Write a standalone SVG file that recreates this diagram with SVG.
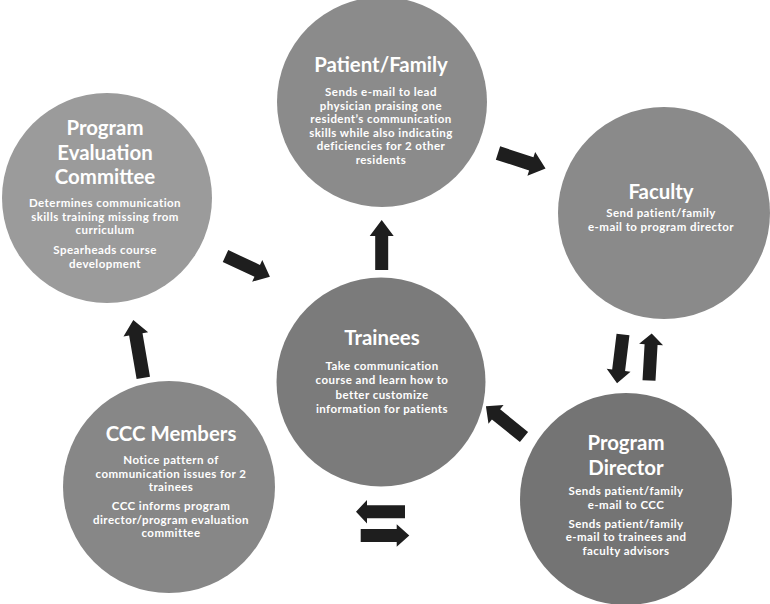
<svg xmlns="http://www.w3.org/2000/svg" width="770" height="604" viewBox="0 0 770 604">
<defs>
<style>
.bg{fill:#ffffff}
.t{font-family:Lato,"Open Sans","Liberation Sans",sans-serif;font-weight:700;fill:#ffffff;text-anchor:middle}
.h{font-size:20.4px}
.b{font-size:11.5px;letter-spacing:0.45px}
.arr{fill:#1e1e1e}
</style>
</defs>
<rect class="bg" x="0" y="0" width="770" height="604"/>
<g id="connectors">
<path class="arr" transform="translate(498,153) rotate(18)" d="M0,-7 L35,-7 L35,-12.5 L50,0 L35,12.5 L35,7 L0,7 Z"/>
<path class="arr" transform="translate(225.5,256) rotate(25)" d="M0,-6.5 L35,-6.5 L35,-12 L49,0 L35,12 L35,6.5 L0,6.5 Z"/>
<path class="arr" transform="translate(381.7,270) rotate(-90)" d="M0,-6.5 L34,-6.5 L34,-12 L50,0 L34,12 L34,6.5 L0,6.5 Z"/>
<path class="arr" transform="translate(623,334.5) rotate(97)" d="M0,-6.5 L36,-6.5 L36,-12 L49,0 L36,12 L36,6.5 L0,6.5 Z"/>
<path class="arr" transform="translate(649,380.5) rotate(-86.7)" d="M0,-6.5 L36,-6.5 L36,-12 L47,0 L36,12 L36,6.5 L0,6.5 Z"/>
<path class="arr" transform="translate(524,437) rotate(219)" d="M0,-6.5 L36,-6.5 L36,-12 L49,0 L36,12 L36,6.5 L0,6.5 Z"/>
<path class="arr" transform="translate(405,511.7) rotate(180)" d="M0,-6.5 L38,-6.5 L38,-11.7 L49,0 L38,11.7 L38,6.5 L0,6.5 Z"/>
<path class="arr" transform="translate(360.7,535.5) rotate(0)" d="M0,-6.5 L36,-6.5 L36,-11.2 L48.6,0 L36,11.2 L36,6.5 L0,6.5 Z"/>
<path class="arr" transform="translate(143.3,377.8) rotate(-99.8)" d="M0,-6.8 L44,-6.8 L44,-12.5 L58.7,0 L44,12.5 L44,6.8 L0,6.8 Z"/>
</g>
<g id="patient-family">
<circle cx="382" cy="102" r="105" fill="#8b8b8b"/>
<text class="t h" x="381" y="72">Patient/Family</text>
<text class="t b" x="381" y="96">Sends e-mail to lead</text>
<text class="t b" x="381" y="109.5">physician praising one</text>
<text class="t b" x="381" y="123">resident’s communication</text>
<text class="t b" x="381" y="136.5">skills while also indicating</text>
<text class="t b" x="381" y="150">deficiencies for 2 other</text>
<text class="t b" x="381" y="163.5">residents</text>
</g>
<g id="program-evaluation-committee">
<circle cx="107" cy="198" r="105" fill="#9b9b9b"/>
<text class="t h" x="105" y="135">Program</text>
<text class="t h" x="105" y="159.5">Evaluation</text>
<text class="t h" x="105" y="184">Committee</text>
<text class="t b" x="105" y="207">Determines communication</text>
<text class="t b" x="105" y="220.5">skills training missing from</text>
<text class="t b" x="105" y="234">curriculum</text>
<text class="t b" x="105" y="254">Spearheads course</text>
<text class="t b" x="105" y="267.5">development</text>
</g>
<g id="faculty">
<circle cx="664" cy="213" r="106" fill="#8a8a8a"/>
<text class="t h" x="661" y="199">Faculty</text>
<text class="t b" x="661" y="217">Send patient/family</text>
<text class="t b" x="661" y="231">e-mail to program director</text>
</g>
<g id="trainees">
<circle cx="381" cy="382" r="104.5" fill="#7b7b7b"/>
<text class="t h" x="382" y="345">Trainees</text>
<text class="t b" x="382" y="369.5">Take communication</text>
<text class="t b" x="382" y="384">course and learn how to</text>
<text class="t b" x="382" y="398.5">better customize</text>
<text class="t b" x="382" y="413">information for patients</text>
</g>
<g id="ccc-members">
<circle cx="169" cy="487" r="106" fill="#878787"/>
<text class="t h" x="171" y="441">CCC Members</text>
<text class="t b" x="171" y="464">Notice pattern of</text>
<text class="t b" x="171" y="477.5">communication issues for 2</text>
<text class="t b" x="171" y="491">trainees</text>
<text class="t b" x="171" y="510">CCC informs program</text>
<text class="t b" x="171" y="523.5">director/program evaluation</text>
<text class="t b" x="171" y="537">committee</text>
</g>
<g id="program-director">
<circle cx="626" cy="499" r="106" fill="#747474"/>
<text class="t h" x="626" y="450">Program</text>
<text class="t h" x="626" y="475">Director</text>
<text class="t b" x="626" y="495">Sends patient/family</text>
<text class="t b" x="626" y="508.5">e-mail to CCC</text>
<text class="t b" x="626" y="527.5">Sends patient/family</text>
<text class="t b" x="626" y="541">e-mail to trainees and</text>
<text class="t b" x="626" y="554.5">faculty advisors</text>
</g>
</svg>
